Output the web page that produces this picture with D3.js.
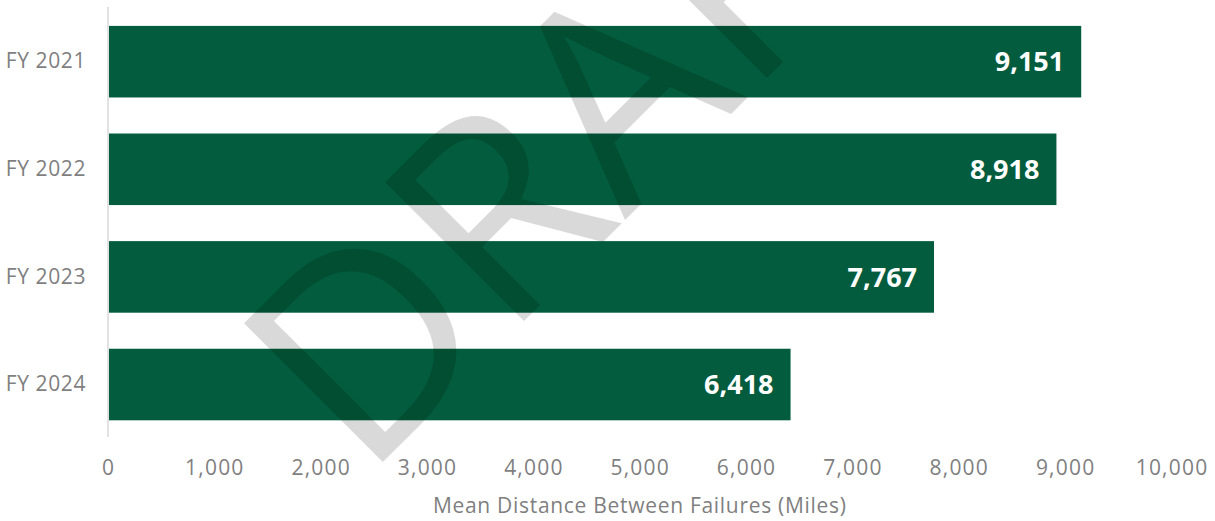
<!DOCTYPE html>
<html>
<head>
<meta charset="utf-8">
<script src="https://cdn.jsdelivr.net/npm/d3@7"></script>
<style>
  html, body { margin: 0; padding: 0; background: #fff; }
  svg { display: block; }
</style>
</head>
<body>
<svg id="chart" width="1215" height="521"></svg>
<script>
const categories = ["FY 2021", "FY 2022", "FY 2023", "FY 2024"];
const values = [9151, 8918, 7767, 6418];
const tickValues = [0, 1000, 2000, 3000, 4000, 5000, 6000, 7000, 8000, 9000, 10000];
const axisTitle = "Mean Distance Between Failures (Miles)";
const watermarkText = "DRAFT";

const W = 1215, H = 521;
const FONT = "'Open Sans', 'DejaVu Sans', sans-serif";
const svg = d3.select("#chart");

const x = d3.scaleLinear().domain([0, 10000]).range([108, 1171.5]);
const y = d3.scaleBand().domain(categories).range([7.6, 438.6]).paddingInner(0.335).paddingOuter(0.17);

// axis line (vertical)
svg.append("line")
  .attr("x1", x(0)).attr("x2", x(0))
  .attr("y1", 7).attr("y2", 437)
  .attr("stroke", "#d9d9d9").attr("stroke-width", 1.5);

// bars
svg.append("g").selectAll("rect")
  .data(categories)
  .join("rect")
  .attr("x", x(0) + 1)
  .attr("y", d => y(d))
  .attr("width", (d, i) => x(values[i]) - x(0) - 1)
  .attr("height", y.bandwidth())
  .attr("fill", "#025c3d");

// value labels
svg.append("g").selectAll("text")
  .data(categories)
  .join("text")
  .attr("x", (d, i) => x(values[i]) - 17)
  .attr("y", d => y(d) + y.bandwidth() / 2)
  .attr("dy", "0.36em")
  .attr("text-anchor", "end")
  .attr("font-family", FONT)
  .attr("font-weight", "bold")
  .attr("font-size", 27)
  .attr("fill", "#ffffff")
  .text((d, i) => d3.format(",")(values[i]));

// category labels
const yAxis = d3.axisLeft(y).tickSize(0).tickPadding(22);
const gy = svg.append("g").attr("transform", `translate(${x(0)},0)`).call(yAxis);
gy.select(".domain").remove();
gy.selectAll("text")
  .attr("font-family", FONT)
  .attr("font-size", 21)
  .attr("letter-spacing", 0.6)
  .attr("fill", "#7f7f7f");

// x axis ticks
const xAxis = d3.axisBottom(x).tickValues(tickValues).tickSize(0).tickPadding(0).tickFormat(d3.format(","));
const gx = svg.append("g").attr("transform", `translate(0,467)`).call(xAxis);
gx.select(".domain").remove();
gx.selectAll("text")
  .attr("dy", "0.36em")
  .attr("y", 0)
  .attr("font-family", FONT)
  .attr("font-size", 21)
  .attr("letter-spacing", 1.2)
  .attr("fill", "#7f7f7f");

// axis title
svg.append("text")
  .attr("x", (x(0) + x(10000)) / 2)
  .attr("y", 505)
  .attr("dy", "0.36em")
  .attr("text-anchor", "middle")
  .attr("font-family", FONT)
  .attr("font-size", 21)
  .attr("letter-spacing", 0.7)
  .attr("fill", "#7f7f7f")
  .text(axisTitle);

// watermark
svg.append("text")
  .attr("transform", "translate(363.9,481.1) rotate(-45)")
  .attr("font-family", FONT)
  .attr("font-size", 275)
  .attr("fill", "#000")
  .attr("fill-opacity", 0.15)
  .text(watermarkText);
</script>
</body>
</html>
